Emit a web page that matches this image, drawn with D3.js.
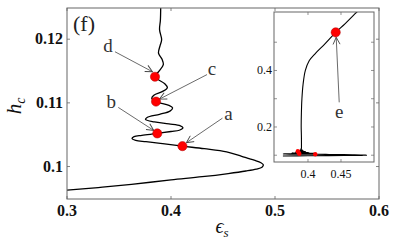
<!DOCTYPE html>
<html><head><meta charset="utf-8">
<script src="https://cdn.jsdelivr.net/npm/d3@7"></script>
<style>body{margin:0;background:#fff}svg{display:block}</style>
</head><body>
<svg id="c" width="399" height="249"></svg>
<script>
// ---- data ----
const epsMain = [0.300,0.330,0.362,0.400,0.430,0.455,0.472,0.482,0.4875,0.4888,0.4865,0.480,0.468,0.4535,0.432,0.411,0.392,0.376,0.366,0.3625,0.3645,0.372,0.3868,0.400,0.408,0.4115,0.409,0.398,0.384,0.3755,0.377,0.389,0.399,0.4015,0.398,0.3856,0.3815,0.3835,0.392,0.3965,0.394,0.3846,0.3885,0.3926,0.3915,0.3880,0.3895,0.3910,0.3890,0.3898,0.3901,0.3901];
const hMain   = [0.0963,0.0967,0.0972,0.0979,0.0984,0.0989,0.0993,0.0996,0.0999,0.10025,0.1006,0.1010,0.1016,0.1023,0.1028,0.1032,0.1036,0.1039,0.1041,0.1044,0.1047,0.1049,0.1052,0.1055,0.1057,0.1061,0.1064,0.1067,0.1070,0.1074,0.1077,0.1082,0.1087,0.1092,0.1096,0.1102,0.1107,0.1112,0.1118,0.1124,0.1130,0.1141,0.1150,0.1160,0.1168,0.1178,0.1190,0.1199,0.1215,0.1230,0.1250,0.1270];
const epsUpper = [0.3901,0.3900,0.3897,0.3900,0.3908,0.3925,0.3960,0.4020,0.4110,0.4260,0.4420,0.4560,0.4710,0.4800];
const hUpper   = [0.1400,0.1700,0.2000,0.2500,0.3000,0.3500,0.4000,0.4350,0.4600,0.4950,0.5350,0.5650,0.6000,0.6200];
const markLabels = ["a","b","c","d"];
const markEps = [0.4110,0.3868,0.3856,0.3846];
const markH   = [0.1032,0.1052,0.1102,0.1141];
const eLabel = "e", eEps = 0.4420, eH = 0.5350;
const xTicks = [0.3,0.4,0.5,0.6];
const yTicks = [0.1,0.11,0.12];
const insetXTicks = [0.4,0.45];
const insetYTicks = [0.1,0.2,0.3,0.4,0.5];
const insetYLabels = [0.2,0.4];

const svg = d3.select("#c");
const serif = "Liberation Serif";

// ---- main axes ----
const M = {l:67, t:8, r:379, b:199};
const x = d3.scaleLinear().domain([0.3,0.6]).range([M.l,M.r]);
const y = d3.scaleLinear().domain([0.0949,0.1249]).range([M.b,M.t]);

svg.append("clipPath").attr("id","cm").append("rect")
  .attr("x",M.l).attr("y",M.t).attr("width",M.r-M.l).attr("height",M.b-M.t);

const line = d3.line().x(d=>x(d[0])).y(d=>y(d[1])).curve(d3.curveCatmullRom.alpha(0.5));
const mainPts = epsMain.map((e,i)=>[e,hMain[i]]);
svg.append("path").attr("clip-path","url(#cm)").attr("d",line(mainPts))
  .attr("fill","none").attr("stroke","#000").attr("stroke-width",1.3);

// frame + ticks
svg.append("rect").attr("x",M.l).attr("y",M.t).attr("width",M.r-M.l).attr("height",M.b-M.t)
  .attr("fill","none").attr("stroke","#666").attr("stroke-width",1);
const tk = svg.append("g").attr("stroke","#666").attr("stroke-width",0.8);
xTicks.forEach(v=>{
  tk.append("line").attr("x1",x(v)).attr("x2",x(v)).attr("y1",M.b).attr("y2",M.b-3);
  tk.append("line").attr("x1",x(v)).attr("x2",x(v)).attr("y1",M.t).attr("y2",M.t+3);
});
yTicks.forEach(v=>{
  tk.append("line").attr("y1",y(v)).attr("y2",y(v)).attr("x1",M.l).attr("x2",M.l+3);
  tk.append("line").attr("y1",y(v)).attr("y2",y(v)).attr("x1",M.r).attr("x2",M.r-3);
});
svg.append("g").selectAll("text").data(xTicks).join("text")
  .attr("x",d=>x(d)).attr("y",216).attr("text-anchor","middle")
  .attr("font-family",serif).attr("font-size",16).attr("font-weight","bold").attr("fill","#111")
  .text(d=>d3.format("~g")(d));
svg.append("g").selectAll("text").data(yTicks).join("text")
  .attr("x",63).attr("y",d=>y(d)+5).attr("text-anchor","end")
  .attr("font-family",serif).attr("font-size",16).attr("font-weight","bold").attr("fill","#111")
  .text(d=>d3.format("~g")(d));

// axis labels
const yl = svg.append("text").attr("transform","translate(21,106) rotate(-90)")
  .attr("text-anchor","middle").attr("font-family",serif).attr("font-style","italic")
  .attr("font-size",21).attr("fill","#111");
yl.append("tspan").text("h");
yl.append("tspan").attr("font-size",14).attr("dy",4).text("c");
const xl = svg.append("text").attr("x",222).attr("y",233)
  .attr("text-anchor","middle").attr("font-family",serif).attr("font-style","italic")
  .attr("font-size",20).attr("fill","#111");
xl.append("tspan").text("ϵ");
xl.append("tspan").attr("font-size",13).attr("dy",4).text("s");

svg.append("text").attr("x",73).attr("y",31).attr("font-family",serif)
  .attr("font-size",22).attr("fill","#222").text("(f)");

// arrow marker
const defs = svg.append("defs");
defs.append("marker").attr("id","ah").attr("viewBox","-8 -5 10 10")
  .attr("markerWidth",10).attr("markerHeight",10).attr("refX",0).attr("refY",0)
  .attr("orient","auto").attr("markerUnits","userSpaceOnUse")
  .append("path").attr("d","M-7,-3.5 L0,0 L-7,3.5").attr("fill","none")
  .attr("stroke","#444").attr("stroke-width",0.9);

// annotations (offsets in px from the marker)
const ann = {
  a:{tail:[40,-28], tip:[4,-3.5], lab:[46,-31]},
  b:{tail:[-39,-26], tip:[-3.5,-3], lab:[-46,-30]},
  c:{tail:[51,-27], tip:[3.5,-2.5], lab:[56,-31.5]},
  d:{tail:[-40,-25], tip:[-2.5,-5], lab:[-47,-30]}
};
markLabels.forEach((L,i)=>{
  const px=x(markEps[i]), py=y(markH[i]), o=ann[L];
  svg.append("line").attr("x1",px+o.tail[0]).attr("y1",py+o.tail[1])
    .attr("x2",px+o.tip[0]).attr("y2",py+o.tip[1])
    .attr("stroke","#444").attr("stroke-width",0.8).attr("marker-end","url(#ah)");
  svg.append("text").attr("x",px+o.lab[0]).attr("y",py+o.lab[1]+5)
    .attr("text-anchor","middle").attr("font-family",serif).attr("font-size",19)
    .attr("fill","#333").text(L);
});
svg.append("g").selectAll("circle").data(markEps).join("circle")
  .attr("cx",d=>x(d)).attr("cy",(d,i)=>y(markH[i])).attr("r",4.6)
  .attr("fill","#f00").attr("stroke","#a00").attr("stroke-width",0.5);

// ---- inset ----
const I = {l:274, t:12, r:374, b:162};
const xi = d3.scaleLinear().domain([0.3485,0.5]).range([I.l,I.r]);
const yi = d3.scaleLinear().domain([0.076,0.607]).range([I.b,I.t]);
svg.append("rect").attr("x",I.l).attr("y",I.t).attr("width",I.r-I.l).attr("height",I.b-I.t)
  .attr("fill","#fff");
svg.append("clipPath").attr("id","ci").append("rect")
  .attr("x",I.l).attr("y",I.t).attr("width",I.r-I.l).attr("height",I.b-I.t);
const lineI = d3.line().x(d=>xi(d[0])).y(d=>yi(d[1])).curve(d3.curveCatmullRom.alpha(0.5));
const insetPts = mainPts.slice(2).concat(epsUpper.map((e,i)=>[e,hUpper[i]]));
svg.append("path").attr("clip-path","url(#ci)").attr("d",lineI(insetPts))
  .attr("fill","none").attr("stroke","#000").attr("stroke-width",1.1);
svg.append("rect").attr("x",I.l).attr("y",I.t).attr("width",I.r-I.l).attr("height",I.b-I.t)
  .attr("fill","none").attr("stroke","#666").attr("stroke-width",1);
const tki = svg.append("g").attr("stroke","#666").attr("stroke-width",0.7);
insetXTicks.forEach(v=>{
  tki.append("line").attr("x1",xi(v)).attr("x2",xi(v)).attr("y1",I.b).attr("y2",I.b-3);
  tki.append("line").attr("x1",xi(v)).attr("x2",xi(v)).attr("y1",I.t).attr("y2",I.t+3);
});
insetYTicks.forEach(v=>{
  tki.append("line").attr("y1",yi(v)).attr("y2",yi(v)).attr("x1",I.l).attr("x2",I.l+3);
  tki.append("line").attr("y1",yi(v)).attr("y2",yi(v)).attr("x1",I.r).attr("x2",I.r-3);
});
svg.append("g").selectAll("text").data(insetXTicks).join("text")
  .attr("x",d=>xi(d)).attr("y",178).attr("text-anchor","middle")
  .attr("font-family",serif).attr("font-size",12).attr("fill","#111")
  .text(d=>d3.format("~g")(d));
svg.append("g").selectAll("text").data(insetYLabels).join("text")
  .attr("x",272).attr("y",d=>yi(d)+4).attr("text-anchor","end")
  .attr("font-family",serif).attr("font-size",12).attr("fill","#111")
  .text(d=>d3.format("~g")(d));
// small markers in inset
svg.append("g").selectAll("circle").data(markEps).join("circle")
  .attr("cx",d=>xi(d)).attr("cy",(d,i)=>yi(markH[i])).attr("r",2.2)
  .attr("fill","#f00");
// e marker + annotation
const ex=xi(eEps), ey=yi(eH);
svg.append("line").attr("x1",ex+3.5).attr("y1",ey+70).attr("x2",ex+0.5).attr("y2",ey+5)
  .attr("stroke","#444").attr("stroke-width",0.8).attr("marker-end","url(#ah)");
svg.append("text").attr("x",ex+3.5).attr("y",ey+86).attr("text-anchor","middle")
  .attr("font-family",serif).attr("font-size",19).attr("fill","#333").text(eLabel);
svg.append("circle").attr("cx",ex).attr("cy",ey).attr("r",4.6)
  .attr("fill","#f00").attr("stroke","#a00").attr("stroke-width",0.5);
</script>
</body></html>
